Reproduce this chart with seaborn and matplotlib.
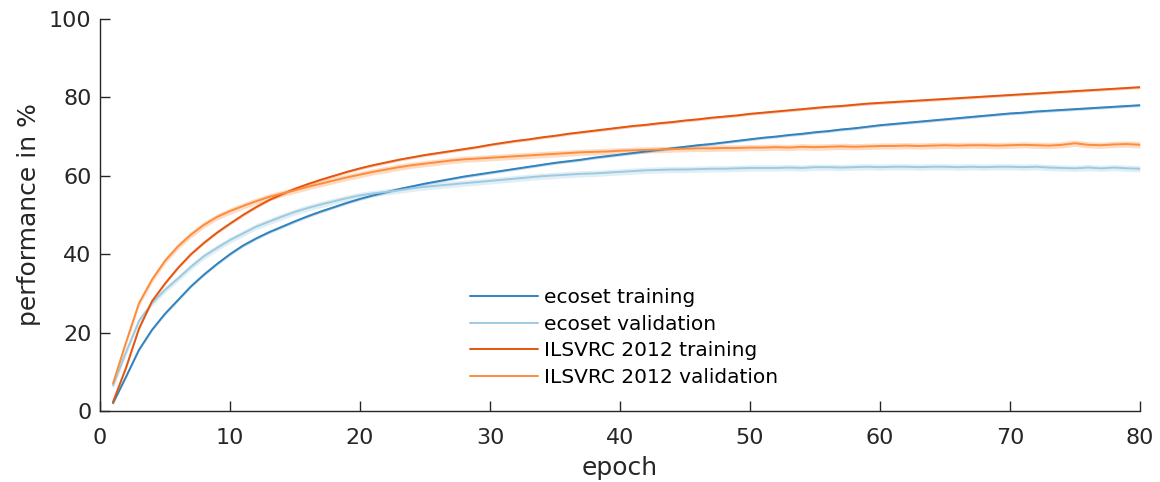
import numpy as np
import pandas as pd
import matplotlib
matplotlib.use("Agg")
import matplotlib.pyplot as plt
import seaborn as sns

epochs = list(range(1, 81))

ecoset_train = [
    2.0, 8.7, 15.6, 20.7, 24.8, 28.3, 31.8, 34.8, 37.5, 40.0,
    42.2, 44.0, 45.6, 47.0, 48.4, 49.7, 50.9, 52.0, 53.1, 54.1,
    55.0, 55.8, 56.6, 57.3, 58.0, 58.6, 59.2, 59.8, 60.3, 60.8,
    61.3, 61.8, 62.3, 62.8, 63.3, 63.7, 64.1, 64.6, 65.0, 65.4,
    65.8, 66.2, 66.6, 67.0, 67.4, 67.8, 68.1, 68.5, 68.9, 69.3,
    69.7, 70.0, 70.4, 70.7, 71.1, 71.4, 71.8, 72.1, 72.5, 72.9,
    73.2, 73.5, 73.8, 74.1, 74.4, 74.7, 75.0, 75.3, 75.6, 75.9,
    76.1, 76.4, 76.6, 76.8, 77.0, 77.2, 77.4, 77.6, 77.8, 78.0,
]
ecoset_val = [
    6.5, 15.0, 23.0, 27.5, 30.9, 33.8, 36.8, 39.5, 41.6, 43.6,
    45.3, 47.0, 48.3, 49.6, 50.8, 51.8, 52.7, 53.5, 54.3, 55.0,
    55.5, 55.9, 56.3, 56.8, 57.2, 57.5, 57.8, 58.1, 58.4, 58.7,
    59.0, 59.3, 59.6, 59.9, 60.1, 60.3, 60.5, 60.6, 60.8, 61.0,
    61.2, 61.4, 61.5, 61.6, 61.6, 61.7, 61.8, 61.8, 61.9, 62.0,
    62.0, 62.0, 62.1, 62.0, 62.2, 62.2, 62.1, 62.2, 62.3, 62.2,
    62.3, 62.3, 62.2, 62.3, 62.3, 62.2, 62.3, 62.2, 62.3, 62.3,
    62.2, 62.3, 62.1, 62.0, 61.9, 62.1, 61.9, 62.1, 61.9, 61.8,
]
ilsvrc_train = [
    2.3, 11.0, 21.0, 28.0, 32.5, 36.5, 40.0, 42.9, 45.5, 47.8,
    50.0, 52.0, 53.8, 55.3, 56.7, 57.9, 59.0, 60.0, 61.0, 61.9,
    62.7, 63.4, 64.1, 64.7, 65.3, 65.8, 66.3, 66.8, 67.3, 67.9,
    68.4, 68.9, 69.3, 69.8, 70.2, 70.7, 71.1, 71.5, 71.9, 72.3,
    72.7, 73.0, 73.4, 73.7, 74.1, 74.4, 74.8, 75.1, 75.4, 75.8,
    76.1, 76.4, 76.7, 77.0, 77.3, 77.6, 77.8, 78.1, 78.4, 78.6,
    78.8, 79.0, 79.2, 79.4, 79.6, 79.8, 80.0, 80.2, 80.4, 80.6,
    80.8, 81.0, 81.2, 81.4, 81.6, 81.8, 82.0, 82.2, 82.4, 82.6,
]
ilsvrc_val = [
    7.0, 17.5, 27.5, 33.5, 38.3, 42.0, 45.0, 47.5, 49.5, 51.0,
    52.3, 53.5, 54.6, 55.5, 56.3, 57.2, 58.0, 58.8, 59.6, 60.3,
    61.0, 61.6, 62.2, 62.7, 63.1, 63.5, 63.9, 64.2, 64.4, 64.6,
    64.8, 65.0, 65.2, 65.4, 65.6, 65.8, 66.0, 66.1, 66.2, 66.4,
    66.5, 66.6, 66.7, 66.8, 66.9, 67.0, 67.0, 67.1, 67.1, 67.2,
    67.2, 67.3, 67.2, 67.4, 67.3, 67.4, 67.5, 67.4, 67.5, 67.6,
    67.6, 67.7, 67.6, 67.7, 67.8, 67.7, 67.8, 67.8, 67.7, 67.8,
    67.9, 67.8, 67.7, 67.9, 68.3, 67.9, 67.8, 68.0, 68.1, 67.9,
]

# half-width of the run-to-run spread band for each curve
spread = {
    "ecoset training": 0.35,
    "ecoset validation": 0.8,
    "ILSVRC 2012 training": 0.35,
    "ILSVRC 2012 validation": 0.8,
}

series = {
    "ecoset training": ecoset_train,
    "ecoset validation": ecoset_val,
    "ILSVRC 2012 training": ilsvrc_train,
    "ILSVRC 2012 validation": ilsvrc_val,
}
colors = {
    "ecoset training": "#3182bd",
    "ecoset validation": "#9ecae1",
    "ILSVRC 2012 training": "#e6550d",
    "ILSVRC 2012 validation": "#fd8d3c",
}

df = pd.concat(
    [pd.DataFrame({"epoch": epochs, "performance": vals, "run": name})
     for name, vals in series.items()],
    ignore_index=True,
)

sns.set_theme(style="white")
plt.rcParams["font.family"] = ["DejaVu Sans"]
ink = "#262626"

fig = plt.figure(figsize=(11.6, 4.82), dpi=100)
ax = fig.add_axes([0.0862, 0.1473, 0.8966, 0.8133])

for name, vals in series.items():
    v = np.asarray(vals)
    ax.fill_between(epochs, v - spread[name], v + spread[name],
                    color=colors[name], alpha=0.3, linewidth=0)

sns.lineplot(data=df, x="epoch", y="performance", hue="run",
             palette=colors, hue_order=list(series.keys()),
             linewidth=1.4, ax=ax)

ax.set_xlim(0, 80)
ax.set_ylim(0, 100)
ax.set_xticks(range(0, 81, 10))
ax.set_yticks(range(0, 101, 20))
ax.set_xlabel("epoch", fontsize=18, color=ink, labelpad=6)
ax.set_ylabel("performance in %", fontsize=18, color=ink, labelpad=6)
ax.tick_params(direction="in", length=7, width=1, colors=ink,
               labelsize=16, left=True, bottom=True)
ax.tick_params(axis="x", pad=12)
ax.tick_params(axis="y", pad=6)
for side in ("top", "right"):
    ax.spines[side].set_visible(False)
for side in ("left", "bottom"):
    ax.spines[side].set_color(ink)
    ax.spines[side].set_linewidth(1)

leg = ax.legend(loc="upper left", bbox_to_anchor=(0.338, 0.36),
                frameon=False, fontsize=14.5, handlelength=3.4,
                handletextpad=0.3, labelspacing=0.38)
for h in leg.get_lines():
    h.set_linewidth(1.4)
for t in leg.get_texts():
    t.set_color("black")

fig.savefig("out.png", dpi=100)
